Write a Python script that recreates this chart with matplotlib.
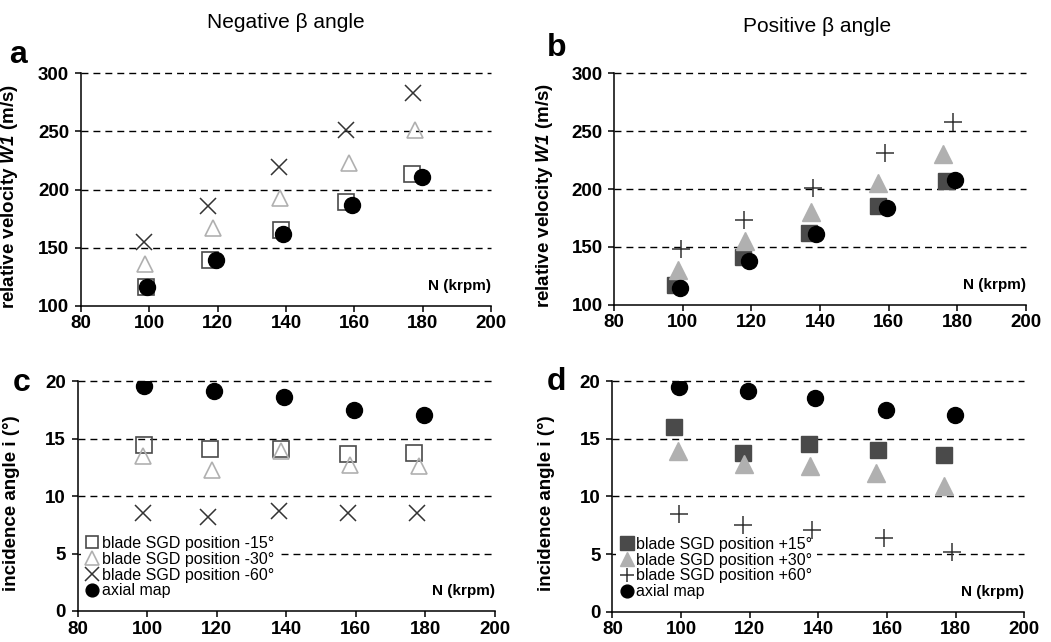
import numpy as np
import matplotlib
matplotlib.use("Agg")
import matplotlib.pyplot as plt

plt.rcParams['font.family'] = ['Liberation Sans', 'DejaVu Sans']
plt.rcParams['mathtext.fontset'] = 'custom'
plt.rcParams['mathtext.rm'] = 'Liberation Sans'
plt.rcParams['mathtext.it'] = 'Liberation Sans:italic'
plt.rcParams['mathtext.bf'] = 'Liberation Sans:bold:italic'

# ---- data ----
# panel a : negative beta, relative velocity W1 (m/s)
a_x15 = [98.9, 117.8, 138.5, 157.5, 177.0]
a_y15 = [116, 139, 165, 189, 213]
a_x30 = [98.7, 118.6, 138.2, 158.4, 177.8]
a_y30 = [136, 167, 193, 223, 251]
a_x60 = [98.4, 117.3, 137.8, 157.5, 177.3]
a_y60 = [155, 186, 219, 251, 283]
a_xax = [99.2, 119.5, 139.0, 159.4, 179.7]
a_yax = [116, 139, 162, 187, 211]

# panel b : positive beta, relative velocity W1 (m/s)
b_x15 = [97.7, 117.6, 136.9, 157.0, 176.9]
b_y15 = [117, 141, 162, 185, 207]
b_x30 = [98.5, 118.1, 137.4, 156.8, 176.0]
b_y30 = [130, 155, 180, 205, 230]
b_x60 = [99.4, 117.8, 138.1, 159.0, 178.9]
b_y60 = [148, 173, 201, 231, 258]
b_xax = [99.2, 119.4, 138.8, 159.5, 179.4]
b_yax = [114, 138, 161, 184, 208]

# panel c : negative beta, incidence angle (deg)
c_x15 = [99.2, 118.1, 138.5, 157.6, 176.8]
c_y15 = [14.4, 14.05, 14.05, 13.65, 13.75]
c_x30 = [98.9, 118.7, 138.5, 158.3, 178.0]
c_y30 = [13.5, 12.3, 13.9, 12.7, 12.6]
c_x60 = [98.9, 117.6, 138.0, 157.8, 177.5]
c_y60 = [8.55, 8.2, 8.7, 8.55, 8.55]
c_xax = [99.2, 119.2, 139.2, 159.5, 179.7]
c_yax = [19.6, 19.1, 18.65, 17.45, 17.05]

# panel d : positive beta, incidence angle (deg)
d_x15 = [98.0, 118.0, 137.2, 157.3, 176.7]
d_y15 = [16.0, 13.75, 14.5, 14.0, 13.6]
d_x30 = [99.0, 118.3, 137.6, 156.8, 176.6]
d_y30 = [13.9, 12.8, 12.6, 12.0, 10.9]
d_x60 = [99.5, 118.2, 138.3, 159.2, 178.8]
d_y60 = [8.5, 7.5, 7.1, 6.35, 5.2]
d_xax = [99.5, 119.4, 139.0, 159.7, 179.8]
d_yax = [19.5, 19.1, 18.55, 17.45, 17.05]

neg_labels = ['blade SGD position -15°', 'blade SGD position -30°',
              'blade SGD position -60°', 'axial map']
pos_labels = ['blade SGD position +15°', 'blade SGD position +30°',
              'blade SGD position +60°', 'axial map']

DARK = '#4a4a4a'
LIGHT = '#b0b0b0'
XCOL = '#333333'

fig = plt.figure(figsize=(10.51, 6.42), dpi=100)
ax_a = fig.add_axes([0.0771, 0.5238, 0.3901, 0.3620])
ax_b = fig.add_axes([0.5845, 0.5254, 0.3914, 0.3604])
ax_c = fig.add_axes([0.0739, 0.0483, 0.3971, 0.3582])
ax_d = fig.add_axes([0.5826, 0.0472, 0.3920, 0.3593])


def style_axes(ax, ylim, yticks, grid):
    ax.set_xlim(80, 200)
    ax.set_ylim(*ylim)
    ax.set_xticks(np.arange(80, 201, 20))
    ax.set_yticks(yticks)
    for s in ['top', 'right']:
        ax.spines[s].set_visible(False)
    for s in ['left', 'bottom']:
        ax.spines[s].set_linewidth(1.1)
    ax.tick_params(direction='out', length=4.5, width=1.1, labelsize=13.5)
    ax.tick_params(axis='x', pad=2.5)
    ax.tick_params(axis='y', pad=4)
    for lab in ax.get_xticklabels() + ax.get_yticklabels():
        lab.set_fontweight('bold')
    for g in grid:
        ax.axhline(g, color='black', lw=1.0, ls=(0, (5, 3.6)),
                   zorder=0.5, clip_on=False)
    ax.text(1.0, 0.085, 'N (krpm)', transform=ax.transAxes, ha='right',
            va='center', fontsize=11, fontweight='bold')


# negative beta panels: open markers
for ax, xs, ys in [
    (ax_a, [a_x15, a_x30, a_x60, a_xax], [a_y15, a_y30, a_y60, a_yax]),
    (ax_c, [c_x15, c_x30, c_x60, c_xax], [c_y15, c_y30, c_y60, c_yax]),
]:
    ax.plot(xs[0], ys[0], ls='none', marker='s', ms=11, mfc='none',
            mec=DARK, mew=1.2, label=neg_labels[0], zorder=2)
    ax.plot(xs[1], ys[1], ls='none', marker='^', ms=12, mfc='none',
            mec=LIGHT, mew=1.2, label=neg_labels[1], zorder=2)
    ax.plot(xs[2], ys[2], ls='none', marker='x', ms=12, color=XCOL,
            mew=1.1, label=neg_labels[2], zorder=2)
    ax.plot(xs[3], ys[3], ls='none', marker='o', ms=11.5, color='black',
            label=neg_labels[3], zorder=2)

# positive beta panels: filled markers
for ax, xs, ys in [
    (ax_b, [b_x15, b_x30, b_x60, b_xax], [b_y15, b_y30, b_y60, b_yax]),
    (ax_d, [d_x15, d_x30, d_x60, d_xax], [d_y15, d_y30, d_y60, d_yax]),
]:
    ax.plot(xs[0], ys[0], ls='none', marker='s', ms=12, color=DARK,
            label=pos_labels[0], zorder=2)
    ax.plot(xs[1], ys[1], ls='none', marker='^', ms=13, color=LIGHT,
            label=pos_labels[1], zorder=2)
    ax.plot(xs[2], ys[2], ls='none', marker='+', ms=13, color=XCOL,
            mew=1.1, label=pos_labels[2], zorder=2)
    ax.plot(xs[3], ys[3], ls='none', marker='o', ms=11.5, color='black',
            label=pos_labels[3], zorder=2)

style_axes(ax_a, (100, 300), [100, 150, 200, 250, 300], [150, 200, 250, 300])
style_axes(ax_b, (100, 300), [100, 150, 200, 250, 300], [150, 200, 250, 300])
style_axes(ax_c, (0, 20), [0, 5, 10, 15, 20], [5, 10, 15, 20])
style_axes(ax_d, (0, 20), [0, 5, 10, 15, 20], [5, 10, 15, 20])

ylab_w = r'relative velocity $\mathbf{W1}$ (m/s)'
ylab_i = 'incidence angle i (°)'
ax_a.set_ylabel(ylab_w, fontsize=13.5, fontweight='bold')
ax_b.set_ylabel(ylab_w, fontsize=13.5, fontweight='bold')
ax_c.set_ylabel(ylab_i, fontsize=13.5, fontweight='bold')
ax_d.set_ylabel(ylab_i, fontsize=13.5, fontweight='bold')
ax_a.yaxis.set_label_coords(-0.148, 0.47)
ax_b.yaxis.set_label_coords(-0.144, 0.47)
ax_c.yaxis.set_label_coords(-0.137, 0.47)
ax_d.yaxis.set_label_coords(-0.139, 0.47)

for ax in [ax_c, ax_d]:
    leg = ax.legend(loc='lower left', bbox_to_anchor=(0.0, 0.02),
                    fontsize=11.5, frameon=True, fancybox=False,
                    edgecolor='none', facecolor='white', framealpha=1,
                    handlelength=0.8, handletextpad=0.2, labelspacing=0.05,
                    borderpad=0.3, borderaxespad=0.2, markerscale=0.8)
    leg.set_zorder(1)

fig.text(0.272, 0.965, 'Negative β angle', ha='center', va='center',
         fontsize=15)
fig.text(0.777, 0.959, 'Positive β angle', ha='center', va='center',
         fontsize=15)

for lab, x, y in [('a', 0.009, 0.915), ('b', 0.52, 0.925),
                  ('c', 0.012, 0.403), ('d', 0.52, 0.405)]:
    fig.text(x, y, lab, fontsize=23, fontweight='bold', ha='left',
             va='center')

fig.savefig('out.png', dpi=100)
